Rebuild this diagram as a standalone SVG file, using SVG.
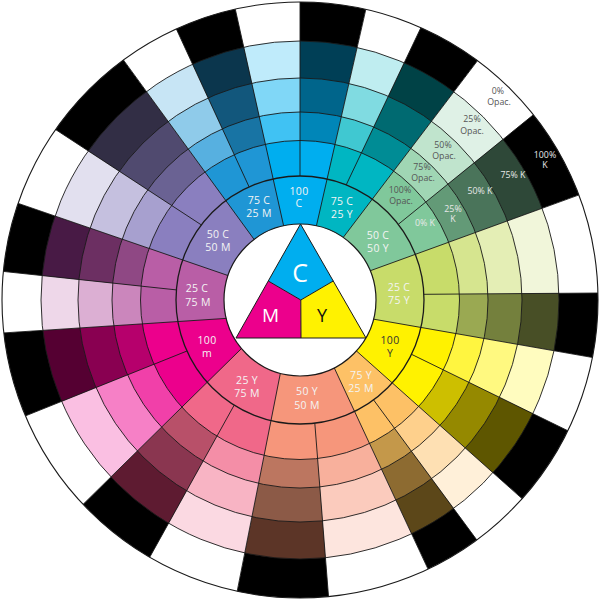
<svg xmlns="http://www.w3.org/2000/svg" width="600" height="600" viewBox="0 0 600 600">
<style>
.ln{stroke:#1a1a1a;stroke-width:0.9;fill:none}
.lb{font-family:"Open Sans","DejaVu Sans",sans-serif;font-size:10.5px;fill:#f4f4f4;text-anchor:middle;letter-spacing:0.3px}
.dk{fill:#333}
.sm{font-family:"Open Sans","DejaVu Sans",sans-serif;font-size:8.8px;fill:#555;text-anchor:middle}
.sw{fill:#e8e8e8}
.big{font-family:"Open Sans","DejaVu Sans",sans-serif;text-anchor:middle}
</style>
<defs>
<clipPath id="c1"><circle cx="300" cy="300" r="124"/></clipPath>
<clipPath id="c2"><circle cx="300" cy="300" r="159.5"/></clipPath>
<clipPath id="c3"><circle cx="300" cy="300" r="188"/></clipPath>
<clipPath id="c4"><circle cx="300" cy="300" r="222"/></clipPath>
<clipPath id="c5"><circle cx="300" cy="300" r="259"/></clipPath>
<clipPath id="c6"><circle cx="300" cy="300" r="298"/></clipPath>
<polygon id="T0" points="285,232 229,-19 300,-30 300,180"/>
<polygon id="D0" points="300,180 300,-30 373,-22 315,232"/>
<polygon id="T1" points="315,232 373,-22 435,-2 344.4,188.8"/>
<polygon id="D1" points="344.4,188.8 435,-2 497,35 339,243"/>
<polygon id="T2" points="339,243 497,35 559,94 395.3,226.8"/>
<polygon id="D2" points="395.3,226.8 559,94 609,184 364,273"/>
<polygon id="T3" points="364,273 609,184 630,292.8 420,294.3"/>
<polygon id="D3" points="420,294.3 630,292.8 624,363 367,318"/>
<polygon id="T4" points="367,318 624,363 597,445 407.6,352.4"/>
<polygon id="D4" points="407.6,352.4 597,445 546,520 352,347"/>
<polygon id="T5" points="352,347 546,520 496,566 371.4,396.9"/>
<polygon id="D5" points="371.4,396.9 496,566 441.5,598 332,363"/>
<polygon id="T6" points="332,363 441.5,598 331,628 314.5,419"/>
<polygon id="D6" points="314.5,419 331,628 231,622.5 281.6,367"/>
<polygon id="T7" points="281.6,367 231,622.5 134,585.5 236.2,401.5"/>
<polygon id="D7" points="236.2,401.5 134,585.5 60,527 245.7,344.4"/>
<polygon id="T8" points="245.7,344.4 60,527 -4.7,428 190.6,349.5"/>
<polygon id="D8" points="190.6,349.5 -4.7,428 -28,335 232,318"/>
<polygon id="T9" points="232,318 -28,335 -28.8,268 180.7,290.4"/>
<polygon id="D9" points="180.7,290.4 -28.8,268 -12,193 234,277.6"/>
<polygon id="T10" points="234,277.6 -12,193 28,111.5 205,227.3"/>
<polygon id="D10" points="205,227.3 28,111.5 104.3,33.7 258,244.8"/>
<polygon id="T11" points="258,244.8 104.3,33.7 163,0 250.8,190.5"/>
<polygon id="D11" points="250.8,190.5 163,0 229,-19 285,232"/>
<polygon id="W0" points="285,232 229,-19 373,-22 315,232"/>
<polygon id="W1" points="315,232 373,-22 497,35 339,243"/>
<polygon id="W2" points="339,243 497,35 609,184 364,273"/>
<polygon id="W3" points="364,273 609,184 624,363 367,318"/>
<polygon id="W4" points="367,318 624,363 546,520 352,347"/>
<polygon id="W5" points="352,347 546,520 441.5,598 332,363"/>
<polygon id="W6" points="332,363 441.5,598 231,622.5 281.6,367"/>
<polygon id="W7" points="281.6,367 231,622.5 60,527 245.7,344.4"/>
<polygon id="W8" points="245.7,344.4 60,527 -28,335 232,318"/>
<polygon id="W9" points="232,318 -28,335 -12,193 234,277.6"/>
<polygon id="W10" points="234,277.6 -12,193 104.3,33.7 258,244.8"/>
<polygon id="W11" points="258,244.8 104.3,33.7 229,-19 285,232"/>
</defs>
<rect width="600" height="600" fill="#fff"/>
<g id="ring6" clip-path="url(#c6)">
<use href="#T0" fill="#fff"/><use href="#D0" fill="#000"/>
<use href="#T1" fill="#fff"/><use href="#D1" fill="#000"/>
<use href="#T2" fill="#fff"/><use href="#D2" fill="#000"/>
<use href="#T3" fill="#fff"/><use href="#D3" fill="#000"/>
<use href="#T4" fill="#fff"/><use href="#D4" fill="#000"/>
<use href="#T5" fill="#fff"/><use href="#D5" fill="#000"/>
<use href="#T6" fill="#fff"/><use href="#D6" fill="#000"/>
<use href="#T7" fill="#fff"/><use href="#D7" fill="#000"/>
<use href="#T8" fill="#fff"/><use href="#D8" fill="#000"/>
<use href="#T9" fill="#fff"/><use href="#D9" fill="#000"/>
<use href="#T10" fill="#fff"/><use href="#D10" fill="#000"/>
<use href="#T11" fill="#fff"/><use href="#D11" fill="#000"/>
</g>
<g id="ring5" clip-path="url(#c5)">
<use href="#T0" fill="#bfebfb"/><use href="#D0" fill="#003f56"/>
<use href="#T1" fill="#bfedf0"/><use href="#D1" fill="#004246"/>
<use href="#T2" fill="#dff1e6"/><use href="#D2" fill="#2e4838"/>
<use href="#T3" fill="#f1f6da"/><use href="#D3" fill="#484f26"/>
<use href="#T4" fill="#fffcbf"/><use href="#D4" fill="#5e5600"/>
<use href="#T5" fill="#fff0d9"/><use href="#D5" fill="#5c4719"/>
<use href="#T6" fill="#fde5de"/><use href="#D6" fill="#5c3527"/>
<use href="#T7" fill="#fbd9e2"/><use href="#D7" fill="#5e1b31"/>
<use href="#T8" fill="#fabfe2"/><use href="#D8" fill="#550032"/>
<use href="#T9" fill="#eed7e9"/><use href="#D9" fill="#481a45"/>
<use href="#T10" fill="#e2e0ef"/><use href="#D10" fill="#322e45"/>
<use href="#T11" fill="#c7e5f5"/><use href="#D11" fill="#0b364d"/>
</g>
<g id="ring4" clip-path="url(#c4)">
<use href="#T0" fill="#80d7f7"/><use href="#D0" fill="#00658b"/>
<use href="#T1" fill="#80dbe1"/><use href="#D1" fill="#006a71"/>
<use href="#T2" fill="#c0e4cd"/><use href="#D2" fill="#4a745a"/>
<use href="#T3" fill="#e4eeb5"/><use href="#D3" fill="#74803d"/>
<use href="#T4" fill="#fff980"/><use href="#D4" fill="#958900"/>
<use href="#T5" fill="#fee0b3"/><use href="#D5" fill="#8d6b31"/>
<use href="#T6" fill="#fbcbbd"/><use href="#D6" fill="#8c5a47"/>
<use href="#T7" fill="#f8b4c4"/><use href="#D7" fill="#8a3650"/>
<use href="#T8" fill="#f680c6"/><use href="#D8" fill="#890051"/>
<use href="#T9" fill="#dcafd3"/><use href="#D9" fill="#6c2f62"/>
<use href="#T10" fill="#c5c0df"/><use href="#D10" fill="#504a6f"/>
<use href="#T11" fill="#8fcbea"/><use href="#D11" fill="#12577c"/>
</g>
<g id="ring3" clip-path="url(#c3)">
<use href="#T0" fill="#40c2f3"/><use href="#D0" fill="#0086b8"/>
<use href="#T1" fill="#40c8d1"/><use href="#D1" fill="#008c95"/>
<use href="#T2" fill="#a0d6b4"/><use href="#D2" fill="#639a77"/>
<use href="#T3" fill="#d6e58f"/><use href="#D3" fill="#9aa952"/>
<use href="#T4" fill="#fff540"/><use href="#D4" fill="#cdbf00"/>
<use href="#T5" fill="#fed08c"/><use href="#D5" fill="#c4984a"/>
<use href="#T6" fill="#f8b09c"/><use href="#D6" fill="#bc7660"/>
<use href="#T7" fill="#f48ea7"/><use href="#D7" fill="#b85069"/>
<use href="#T8" fill="#f140a9"/><use href="#D8" fill="#b6006c"/>
<use href="#T9" fill="#cb86bc"/><use href="#D9" fill="#8f4884"/>
<use href="#T10" fill="#a7a0cf"/><use href="#D10" fill="#6a6293"/>
<use href="#T11" fill="#57b0e0"/><use href="#D11" fill="#1874a4"/>
</g>
<g id="ring2" clip-path="url(#c2)">
<use href="#T0" fill="#00aeef"/><use href="#D0" fill="#00aeef"/>
<use href="#T1" fill="#00b6c2"/><use href="#D1" fill="#00b6c2"/>
<use href="#T2" fill="#80c89b"/><use href="#D2" fill="#80c89b"/>
<use href="#T3" fill="#c8dc6a"/><use href="#D3" fill="#c8dc6a"/>
<use href="#T4" fill="#fff200"/><use href="#D4" fill="#fff200"/>
<use href="#T5" fill="#fdc166"/><use href="#D5" fill="#fdc166"/>
<use href="#T6" fill="#f6967b"/><use href="#D6" fill="#f6967b"/>
<use href="#T7" fill="#f06889"/><use href="#D7" fill="#f06889"/>
<use href="#T8" fill="#ec008c"/><use href="#D8" fill="#ec008c"/>
<use href="#T9" fill="#b95ea6"/><use href="#D9" fill="#b95ea6"/>
<use href="#T10" fill="#8a7fbf"/><use href="#D10" fill="#8a7fbf"/>
<use href="#T11" fill="#1f96d5"/><use href="#D11" fill="#1f96d5"/>
</g>
<g id="ring1" clip-path="url(#c1)">
<use href="#W0" fill="#00aeef"/><use href="#W1" fill="#00b6c2"/>
<use href="#W2" fill="#80c89b"/><use href="#W3" fill="#c8dc6a"/>
<use href="#W4" fill="#fff200"/><use href="#W5" fill="#fdc166"/>
<use href="#W6" fill="#f6967b"/><use href="#W7" fill="#f06889"/>
<use href="#W8" fill="#ec008c"/><use href="#W9" fill="#b95ea6"/>
<use href="#W10" fill="#8a7fbf"/><use href="#W11" fill="#1f96d5"/>
</g>
<g id="connectors">
<g clip-path="url(#c6)" class="ln">
<line x1="285" y1="232" x2="229" y2="-19"/>
<line x1="315" y1="232" x2="373" y2="-22"/>
<line x1="339" y1="243" x2="497" y2="35"/>
<line x1="364" y1="273" x2="609" y2="184"/>
<line x1="367" y1="318" x2="624" y2="363"/>
<line x1="352" y1="347" x2="546" y2="520"/>
<line x1="332" y1="363" x2="441.5" y2="598"/>
<line x1="281.6" y1="367" x2="231" y2="622.5"/>
<line x1="245.7" y1="344.4" x2="60" y2="527"/>
<line x1="232" y1="318" x2="-28" y2="335"/>
<line x1="234" y1="277.6" x2="-12" y2="193"/>
<line x1="258" y1="244.8" x2="104.3" y2="33.7"/>
<line x1="300" y1="176" x2="300" y2="-30"/>
<line x1="346.2" y1="184.9" x2="435" y2="-2"/>
<line x1="398.2" y1="224.4" x2="559" y2="94"/>
<line x1="424" y1="294.3" x2="630" y2="292.8"/>
<line x1="411.5" y1="354.3" x2="597" y2="445"/>
<line x1="373.5" y1="399.8" x2="496" y2="566"/>
<line x1="314.8" y1="423.1" x2="331" y2="628"/>
<line x1="234.2" y1="405.1" x2="134" y2="585.5"/>
<line x1="187" y1="351" x2="-4.7" y2="428"/>
<line x1="176.4" y1="289.9" x2="-28.8" y2="268"/>
<line x1="201.3" y1="224.9" x2="28" y2="111.5"/>
<line x1="249.1" y1="186.9" x2="163" y2="0"/>
</g>
<g class="ln">
<circle cx="300" cy="300" r="124" stroke-width="1.3"/>
<circle cx="300" cy="300" r="159.5"/>
<circle cx="300" cy="300" r="188"/>
<circle cx="300" cy="300" r="222"/>
<circle cx="300" cy="300" r="259"/>
<circle cx="300" cy="300" r="298" stroke-width="1.1"/>
</g>
</g>
<g id="center">
<circle cx="300" cy="300" r="76" fill="#fff" stroke="#1a1a1a" stroke-width="1.2"/>
<polygon points="300.5,224 268.25,281 300.8,300 333.25,281" fill="#00aeef"/>
<polygon points="268.25,281 236,338 301,338 300.8,300" fill="#ec008c"/>
<polygon points="300.8,300 301,338 366,338 333.25,281" fill="#fff200"/>
<g fill="none" stroke="#1a1a1a" stroke-width="1">
<polygon points="300.5,224 236,338 366,338"/>
<polyline points="268.25,281 300.8,300 333.25,281"/>
<line x1="300.8" y1="300" x2="301" y2="338"/>
</g>
<text class="big" x="300" y="282" font-size="25" fill="#fff">C</text>
<text class="big" x="270.5" y="322" font-size="19" fill="#fff">M</text>
<text class="big" x="322" y="322" font-size="18" fill="#111">Y</text>
</g>
<g id="labels">
<text class="lb" x="299" y="194.5">100<tspan x="299" dy="12.5">C</tspan></text>
<text class="lb" x="259" y="204">75 C<tspan x="259" dy="12.5">25 M</tspan></text>
<text class="lb" x="342" y="205">75 C<tspan x="342" dy="12.5">25 Y</tspan></text>
<text class="lb" x="378" y="238.5">50 C<tspan x="378" dy="13.5">50 Y</tspan></text>
<text class="lb" x="399" y="291">25 C<tspan x="399" dy="13">75 Y</tspan></text>
<text class="lb dk" x="390" y="344">100<tspan x="390" dy="13">Y</tspan></text>
<text class="lb" x="361" y="379">75 Y<tspan x="361" dy="13">25 M</tspan></text>
<text class="lb" x="307" y="395">50 Y<tspan x="307" dy="14">50 M</tspan></text>
<text class="lb" x="247" y="384">25 Y<tspan x="247" dy="13">75 M</tspan></text>
<text class="lb" x="207" y="344">100<tspan x="207" dy="13">m</tspan></text>
<text class="lb" x="197" y="292">25 C<tspan x="198" dy="14">75 M</tspan></text>
<text class="lb" x="218" y="237.5">50 C<tspan x="218" dy="13.5">50 M</tspan></text>
<text class="sm" x="400" y="193">100%<tspan x="401" dy="11">Opac.</tspan></text>
<text class="sm" x="422" y="170">75%<tspan x="423" dy="10.5">Opac.</tspan></text>
<text class="sm" x="443" y="147.5">50%<tspan x="444" dy="11.5">Opac.</tspan></text>
<text class="sm" x="472" y="122">25%<tspan x="472" dy="12">Opac.</tspan></text>
<text class="sm" x="498" y="94">0%<tspan x="499" dy="11">Opac.</tspan></text>
<text class="sm sw" x="425" y="226">0% K</text>
<text class="sm sw" x="453" y="211.5">25%<tspan x="453" dy="10.5">K</tspan></text>
<text class="sm sw" x="480" y="194">50% K</text>
<text class="sm sw" x="513" y="177.5">75% K</text>
<text class="sm sw" x="545" y="157.5">100%<tspan x="545" dy="10.5">K</tspan></text>
</g>
</svg>
